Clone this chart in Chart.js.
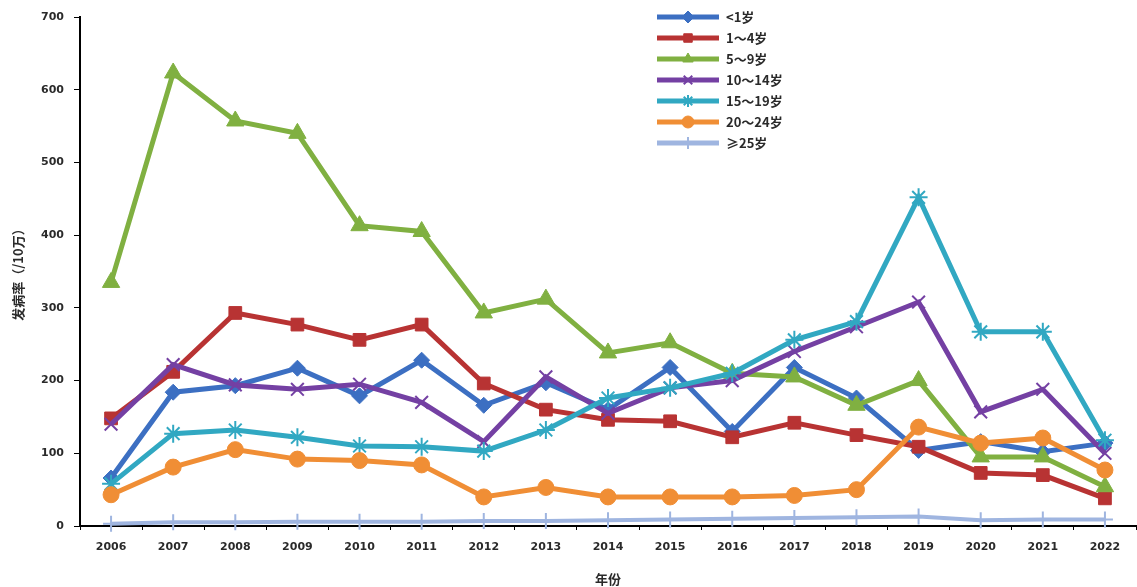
<!DOCTYPE html>
<html>
<head>
<meta charset="utf-8">
<script src="https://cdn.jsdelivr.net/npm/chart.js@4/dist/chart.umd.min.js"></script>
<style>
  html, body { margin: 0; padding: 0; background: #fff; }
</style>
</head>
<body>
<canvas id="rateChart" width="1137" height="587"></canvas>
<script>
// years and incidence per 100k by age group
const years = ["2006", "2007", "2008", "2009", "2010", "2011", "2012", "2013", "2014",
  "2015", "2016", "2017", "2018", "2019", "2020", "2021", "2022"];
const ageUnder1 = [66, 184, 193, 217, 179, 228, 166, 197, 160, 218, 130, 218, 176, 104, 116, 102, 114];
const age1to4 = [148, 212, 293, 277, 256, 277, 196, 160, 146, 144, 122, 142, 125, 109, 73, 70, 38];
const age5to9 = [335, 623, 557, 540, 413, 405, 293, 312, 238, 252, 210, 205, 166, 200, 95, 95, 54];
const age10to14 = [140, 222, 194, 188, 195, 170, 116, 205, 155, 190, 200, 240, 274, 308, 157, 188, 100];
const age15to19 = [58, 127, 132, 122, 110, 109, 103, 132, 176, 190, 210, 256, 281, 452, 267, 267, 118];
const age20to24 = [43, 81, 105, 92, 90, 84, 40, 53, 40, 40, 40, 42, 50, 136, 114, 121, 77];
const age25plus = [3, 5, 5, 6, 6, 6, 7, 7, 8, 9, 10, 11, 12, 13, 8, 9, 9];
const groupNames = ["<1岁", "1～4岁", "5～9岁", "10～14岁", "15～19岁", "20～24岁", "≥25岁"];
const yTicks = [0, 100, 200, 300, 400, 500, 600, 700];

const styles = [
  { color: "#3c6fc2", point: "rectRot", r: 8 },
  { color: "#b83333", point: "rect", r: 9 },
  { color: "#80b041", point: "triangle", r: 10 },
  { color: "#7440a3", point: "crossRot", r: 9 },
  { color: "#31a8c2", point: "star", r: 9 },
  { color: "#f08e35", point: "circle", r: 8 },
  { color: "#9fb5e0", point: "cross", r: 8 }
];
const series = [ageUnder1, age1to4, age5to9, age10to14, age15to19, age20to24, age25plus];

const datasets = series.map((vals, i) => ({
  label: groupNames[i],
  data: vals,
  borderColor: styles[i].color,
  backgroundColor: styles[i].color,
  pointBorderColor: styles[i].color,
  pointBackgroundColor: styles[i].color,
  pointStyle: styles[i].point,
  pointRadius: styles[i].r,
  pointBorderWidth: i === 3 || i === 4 || i === 6 ? 2 : 1,
  borderWidth: i === 6 ? 4 : 5,
  tension: 0,
  clip: false,
  order: 6 - i
}));

// legend drawn as line + marker, stacked in one column
const lineLegend = {
  id: "lineLegend",
  afterDraw(chart) {
    const ctx = chart.ctx;
    const x0 = 657, y0 = 17, rowH = 21, len = 62;
    ctx.save();
    datasets.forEach((ds, i) => {
      const y = y0 + i * rowH;
      ctx.strokeStyle = ds.borderColor;
      ctx.lineWidth = 5;
      ctx.beginPath();
      ctx.moveTo(x0, y);
      ctx.lineTo(x0 + len, y);
      ctx.stroke();
      ctx.fillStyle = ds.borderColor;
      ctx.lineWidth = ds.pointBorderWidth;
      Chart.helpers.drawPoint(ctx, { pointStyle: ds.pointStyle, radius: 6, borderWidth: ds.pointBorderWidth }, x0 + len / 2, y);
      ctx.fillStyle = "#2a2a2a";
      ctx.font = "bold 13px 'Noto Sans CJK SC', 'DejaVu Sans', sans-serif";
      ctx.textBaseline = "middle";
      ctx.textAlign = "left";
      ctx.fillText(ds.label, x0 + len + 7, y);
    });
    ctx.restore();
  }
};

new Chart(document.getElementById("rateChart"), {
  type: "line",
  data: { labels: years, datasets: datasets },
  options: {
    responsive: false,
    animation: false,
    layout: { autoPadding: false, padding: { left: 0, right: 1, top: 17, bottom: 0 } },
    plugins: {
      legend: { display: false },
      tooltip: { enabled: false }
    },
    scales: {
      x: {
        offset: true,
        grid: { display: true, offset: true, drawOnChartArea: false, color: "#000", tickLength: 4 },
        border: { color: "#000", width: 2 },
        ticks: {
          color: "#2a2a2a",
          padding: 11,
          autoSkip: false,
          font: { family: "'DejaVu Sans', sans-serif", size: 11, weight: "bold" },
          maxRotation: 0
        },
        title: {
          display: true,
          text: "年份",
          color: "#2a2a2a",
          padding: { top: 2, bottom: 0 },
          font: { family: "'Noto Sans CJK SC', sans-serif", size: 13, weight: "bold" }
        },
        afterFit(scale) {
          scale.height = 61;
          scale.paddingRight = 0;
        }
      },
      y: {
        min: 0,
        max: 700,
        afterBuildTicks(scale) { scale.ticks = yTicks.map(v => ({ value: v })); },
        grid: { display: true, drawOnChartArea: false, color: "#000", tickLength: 6 },
        border: { color: "#000", width: 2 },
        ticks: {
          color: "#2a2a2a",
          padding: 10,
          autoSkip: false,
          font: { family: "'DejaVu Sans', sans-serif", size: 11, weight: "bold" }
        },
        title: {
          display: true,
          text: "发病率（/10万）",
          color: "#2a2a2a",
          padding: { top: 10, bottom: 4 },
          font: { family: "'Noto Sans CJK SC', sans-serif", size: 13, weight: "bold" }
        },
        afterFit(scale) { scale.width = 80; }
      }
    }
  },
  plugins: [lineLegend]
});
</script>
</body>
</html>
